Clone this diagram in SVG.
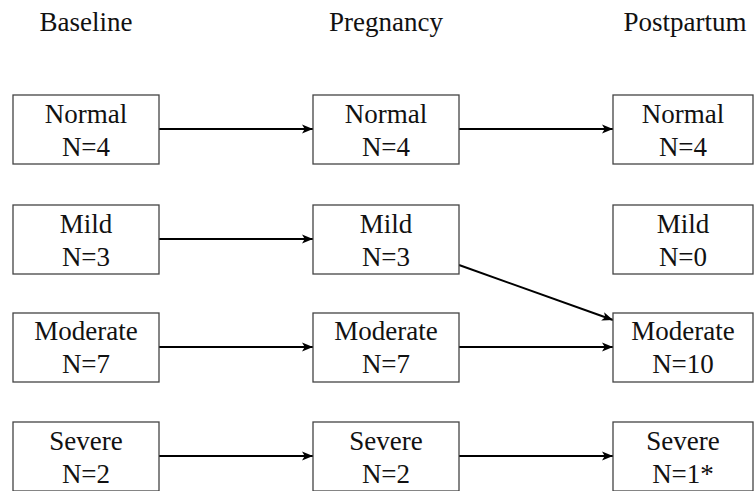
<svg xmlns="http://www.w3.org/2000/svg" width="754" height="491" viewBox="0 0 754 491">
<defs>
<marker id="ah" viewBox="0 0 10 10" refX="10" refY="5" markerWidth="5.5" markerHeight="5.5" orient="auto" markerUnits="strokeWidth">
<path d="M0,1 L10,5 L0,9 L2.5,5 Z" fill="#000"/>
</marker>
<style>
.box{fill:#fff;stroke:#444;stroke-width:1.3}
.edge{stroke:#000;stroke-width:2;fill:none;marker-end:url(#ah)}
</style>
</defs>
<rect width="754" height="491" fill="#fff"/>
<g id="headers" text-anchor="middle" fill="#111">
<text x="86" y="31" font-family="Liberation Serif" font-size="27">Baseline</text>
<text x="386" y="31" font-family="Liberation Serif" font-size="27">Pregnancy</text>
<text x="685" y="31" font-family="Liberation Serif" font-size="27">Postpartum</text>
</g>
<g id="connectors">
<line class="edge" x1="159" y1="129" x2="313" y2="129"/>
<line class="edge" x1="459" y1="129" x2="613" y2="129"/>
<line class="edge" x1="159" y1="239" x2="313" y2="239"/>
<line class="edge" x1="459" y1="265" x2="613" y2="320"/>
<line class="edge" x1="159" y1="347" x2="313" y2="347"/>
<line class="edge" x1="459" y1="347" x2="613" y2="347"/>
<line class="edge" x1="159" y1="456" x2="313" y2="456"/>
<line class="edge" x1="459" y1="456" x2="613" y2="456"/>
</g>
<g text-anchor="middle" fill="#111">
<g id="b-normal"><rect class="box" x="13" y="95" width="146" height="69"/><text x="86" y="123" font-family="Liberation Serif" font-size="27">Normal</text><text x="86" y="156" font-family="Liberation Serif" font-size="27">N=4</text></g>
<g id="b-mild"><rect class="box" x="13" y="205" width="146" height="69"/><text x="86" y="233" font-family="Liberation Serif" font-size="27">Mild</text><text x="86" y="266" font-family="Liberation Serif" font-size="27">N=3</text></g>
<g id="b-moderate"><rect class="box" x="13" y="313" width="146" height="69"/><text x="86" y="340" font-family="Liberation Serif" font-size="27">Moderate</text><text x="86" y="373" font-family="Liberation Serif" font-size="27">N=7</text></g>
<g id="b-severe"><rect class="box" x="13" y="422" width="146" height="69"/><text x="86" y="450" font-family="Liberation Serif" font-size="27">Severe</text><text x="86" y="483" font-family="Liberation Serif" font-size="27">N=2</text></g>
<g id="p-normal"><rect class="box" x="313" y="95" width="146" height="69"/><text x="386" y="123" font-family="Liberation Serif" font-size="27">Normal</text><text x="386" y="156" font-family="Liberation Serif" font-size="27">N=4</text></g>
<g id="p-mild"><rect class="box" x="313" y="205" width="146" height="69"/><text x="386" y="233" font-family="Liberation Serif" font-size="27">Mild</text><text x="386" y="266" font-family="Liberation Serif" font-size="27">N=3</text></g>
<g id="p-moderate"><rect class="box" x="313" y="313" width="146" height="69"/><text x="386" y="340" font-family="Liberation Serif" font-size="27">Moderate</text><text x="386" y="373" font-family="Liberation Serif" font-size="27">N=7</text></g>
<g id="p-severe"><rect class="box" x="313" y="422" width="146" height="69"/><text x="386" y="450" font-family="Liberation Serif" font-size="27">Severe</text><text x="386" y="483" font-family="Liberation Serif" font-size="27">N=2</text></g>
<g id="pp-normal"><rect class="box" x="613" y="95" width="140" height="69"/><text x="683" y="123" font-family="Liberation Serif" font-size="27">Normal</text><text x="683" y="156" font-family="Liberation Serif" font-size="27">N=4</text></g>
<g id="pp-mild"><rect class="box" x="613" y="205" width="140" height="69"/><text x="683" y="233" font-family="Liberation Serif" font-size="27">Mild</text><text x="683" y="266" font-family="Liberation Serif" font-size="27">N=0</text></g>
<g id="pp-moderate"><rect class="box" x="613" y="313" width="140" height="69"/><text x="683" y="340" font-family="Liberation Serif" font-size="27">Moderate</text><text x="683" y="373" font-family="Liberation Serif" font-size="27">N=10</text></g>
<g id="pp-severe"><rect class="box" x="613" y="422" width="140" height="69"/><text x="683" y="450" font-family="Liberation Serif" font-size="27">Severe</text><text x="683" y="483" font-family="Liberation Serif" font-size="27">N=1*</text></g>
</g>
</svg>
